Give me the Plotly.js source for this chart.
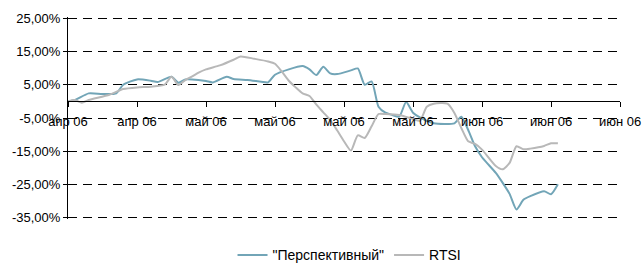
<!DOCTYPE html>
<html>
<head>
<meta charset="utf-8">
<script src="https://cdn.plot.ly/plotly-3.0.1.min.js"></script>
<style>html,body{margin:0;padding:0;background:#fff;}#chart{width:642px;height:266px;}</style>
</head>
<body>
<div id="chart"></div>
<script>
// "Перспективный" fund, % change since start
const persDates = ['2006-04-11','2006-04-12','2006-04-14','2006-04-16','2006-04-18','2006-04-19','2006-04-21','2006-04-23','2006-04-24','2006-04-26','2006-04-27','2006-04-28','2006-04-29','2006-05-01','2006-05-02','2006-05-04','2006-05-05','2006-05-07','2006-05-09','2006-05-10','2006-05-11','2006-05-13','2006-05-15','2006-05-16','2006-05-17','2006-05-18','2006-05-19','2006-05-20','2006-05-22','2006-05-23','2006-05-24','2006-05-25','2006-05-26','2006-05-27','2006-05-28','2006-05-29','2006-05-30','2006-05-31','2006-06-01','2006-06-03','2006-06-06','2006-06-07','2006-06-08','2006-06-09','2006-06-10','2006-06-12','2006-06-13','2006-06-14','2006-06-15','2006-06-16','2006-06-17','2006-06-19','2006-06-20','2006-06-21'];
const persValues = [0,0.4,2.4,2.2,2.4,5.0,6.6,6.2,5.8,7.4,5.6,6.6,6.6,6.1,5.7,7.4,6.7,6.4,5.9,5.7,8.0,9.6,10.6,9.6,7.9,10.4,8.4,8.2,9.3,9.9,5.0,6.0,-1.6,-3.4,-4.1,-4.6,-0.2,-3.4,-4.8,-6.6,-6.6,-4.6,-8.6,-13.5,-16.8,-21.5,-24.5,-27.8,-32.5,-29.6,-28.5,-27.0,-27.9,-24.9];

// RTSI index, % change since start
const rtsiDates = ['2006-04-11','2006-04-12','2006-04-13','2006-04-14','2006-04-17','2006-04-19','2006-04-21','2006-04-23','2006-04-25','2006-04-26','2006-04-27','2006-04-28','2006-04-29','2006-04-30','2006-05-01','2006-05-03','2006-05-05','2006-05-06','2006-05-08','2006-05-10','2006-05-11','2006-05-12','2006-05-13','2006-05-14','2006-05-15','2006-05-16','2006-05-17','2006-05-18','2006-05-19','2006-05-20','2006-05-21','2006-05-22','2006-05-23','2006-05-24','2006-05-25','2006-05-26','2006-05-27','2006-05-29','2006-05-31','2006-06-01','2006-06-02','2006-06-03','2006-06-05','2006-06-06','2006-06-07','2006-06-08','2006-06-09','2006-06-10','2006-06-12','2006-06-13','2006-06-14','2006-06-15','2006-06-16','2006-06-17','2006-06-19','2006-06-20','2006-06-21'];
const rtsiValues = [0,0.4,-0.4,0.4,2.0,3.7,4.2,4.4,5.0,7.4,4.9,6.4,7.5,8.7,9.6,10.8,12.5,13.5,12.8,12.0,11.3,8.9,6.2,4.2,2.4,1.6,-1.0,-3.3,-5.6,-8.7,-12.0,-14.8,-10.2,-11.0,-7.5,-3.8,-3.8,-4.1,-5.3,-5.8,-1.6,-0.7,-0.7,-3.5,-8.0,-12.0,-12.8,-14.5,-19.4,-20.4,-18.5,-13.5,-14.4,-14.2,-13.4,-12.6,-12.6];

const seriesNames = ['"Перспективный"', 'RTSI'];
const xTickDates = ['2006-04-11','2006-04-21','2006-05-01','2006-05-11','2006-05-21','2006-05-31','2006-06-10','2006-06-20','2006-06-30'];
const xTickLabels = ['апр 06','апр 06','май 06','май 06','май 06','май 06','июн 06','июн 06','июн 06'];
const yTickValues = [25,15,5,-5,-15,-25,-35];
const yTickLabels = ['25,00%','15,00%','5,00%','-5,00%','-15,00%','-25,00%','-35,00%'];

const font = 'Liberation Sans, Arial, sans-serif';
const traces = [
  {x: persDates, y: persValues, name: seriesNames[0], type: 'scatter', mode: 'lines',
   line: {color: '#72A5B7', width: 2, shape: 'spline', smoothing: 0.6}},
  {x: rtsiDates, y: rtsiValues, name: seriesNames[1], type: 'scatter', mode: 'lines',
   line: {color: '#B8B8B8', width: 2, shape: 'spline', smoothing: 0.6}}
];
const layout = {
  width: 642, height: 266,
  margin: {l: 68, r: 22, t: 17, b: 47, autoexpand: false},
  paper_bgcolor: '#fff', plot_bgcolor: 'rgba(0,0,0,0)',
  font: {family: font, size: 13, color: '#000'},
  showlegend: true,
  legend: {orientation: 'h', x: 0.51, xanchor: 'center', y: -0.18, yanchor: 'middle',
           font: {family: font, size: 14, color: '#000'}, bgcolor: 'rgba(0,0,0,0)', tracegroupgap: 0},
  xaxis: {type: 'date', range: ['2006-04-11','2006-06-30'], tickmode: 'array',
          tickvals: xTickDates, ticktext: xTickLabels, showgrid: false, zeroline: false,
          showline: true, linecolor: '#000', linewidth: 1, ticks: 'outside', ticklen: 5,
          tickcolor: '#000', anchor: 'free', position: 35.35/60.7, ticklabelstandoff: 3,
          automargin: false, tickfont: {family: font, size: 13, color: '#000'}},
  yaxis: {range: [-35.35, 25.35], tickmode: 'array', tickvals: yTickValues, ticktext: yTickLabels,
          showgrid: true, gridcolor: '#000', gridwidth: 1, griddash: '9px,6px', zeroline: false,
          showline: true, linecolor: '#000', linewidth: 1, ticks: 'outside', ticklen: 4,
          tickcolor: '#000', automargin: false, tickfont: {family: font, size: 13, color: '#000'}}
};
Plotly.newPlot('chart', traces, layout, {displayModeBar: false, staticPlot: true});
</script>
</body>
</html>
